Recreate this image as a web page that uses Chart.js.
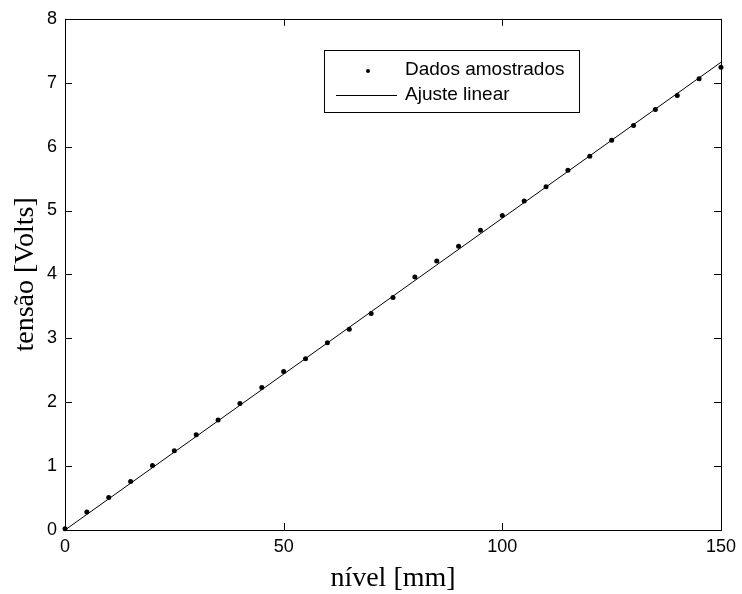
<!DOCTYPE html>
<html>
<head>
<meta charset="utf-8">
<script src="https://cdn.jsdelivr.net/npm/chart.js@4.4.0/dist/chart.umd.min.js"></script>
<style>
html, body { margin: 0; padding: 0; background: #fff; }
#wrap { width: 742px; height: 594px; }
</style>
</head>
<body>
<div id="wrap"><canvas id="chart" width="742" height="594"></canvas></div>
<script>
// Dados amostrados: nível [mm] x tensão [V]
const nivel = [0, 5, 10, 15, 20, 25, 30, 35, 40, 45, 50, 55, 60, 65, 70, 75,
    80, 85, 90, 95, 100, 105, 110, 115, 120, 125, 130, 135, 140, 145, 150];
const tensao = [0.02, 0.28, 0.51, 0.76, 1.01, 1.24, 1.49, 1.72, 1.98, 2.23, 2.48,
    2.68, 2.93, 3.14, 3.39, 3.64, 3.96, 4.21, 4.44, 4.69, 4.92, 5.15, 5.37,
    5.63, 5.85, 6.10, 6.33, 6.58, 6.80, 7.06, 7.24];
// Ajuste linear (extremos da reta)
const ajusteX = [0, 150];
const ajusteY = [0, 7.32];
// Marcas dos eixos
const xTicks = [0, 50, 100, 150];
const yTicks = [0, 1, 2, 3, 4, 5, 6, 7, 8];

const sans = '"Liberation Sans", Arial, sans-serif';
const serif = '"Liberation Serif", "Times New Roman", serif';

// Moldura e marcas internas (estilo MATLAB)
const framePlugin = {
    id: 'frame',
    afterDatasetsDraw(chart) {
        const { ctx, chartArea: a, scales } = chart;
        const tl = 7;
        ctx.save();
        ctx.strokeStyle = '#000';
        ctx.lineWidth = 1;
        ctx.beginPath();
        scales.x.ticks.forEach(t => {
            const px = Math.round(scales.x.getPixelForValue(t.value)) + 0.5;
            ctx.moveTo(px, a.bottom); ctx.lineTo(px, a.bottom - tl);
            ctx.moveTo(px, a.top); ctx.lineTo(px, a.top + tl);
        });
        scales.y.ticks.forEach(t => {
            const py = Math.round(scales.y.getPixelForValue(t.value)) + 0.5;
            ctx.moveTo(a.left, py); ctx.lineTo(a.left + tl, py);
            ctx.moveTo(a.right, py); ctx.lineTo(a.right - tl, py);
        });
        ctx.stroke();
        ctx.strokeRect(Math.round(a.left) + 0.5, Math.round(a.top) + 0.5,
            Math.round(a.right - a.left), Math.round(a.bottom - a.top));
        ctx.restore();
    }
};

// Legenda desenhada dentro da área do gráfico
const legendPlugin = {
    id: 'boxLegend',
    afterDraw(chart) {
        const { ctx } = chart;
        const ds = chart.data.datasets;
        const box = { x: 324.5, y: 50.5, w: 255, h: 62 };
        ctx.save();
        ctx.fillStyle = '#fff';
        ctx.fillRect(box.x, box.y, box.w, box.h);
        ctx.strokeStyle = '#000';
        ctx.lineWidth = 1;
        ctx.strokeRect(box.x, box.y, box.w, box.h);

        ctx.font = '19px ' + sans;
        ctx.fillStyle = '#000';
        ctx.textBaseline = 'middle';
        ctx.textAlign = 'left';

        // linha 1: pontos
        ctx.beginPath();
        ctx.arc(368, 71, 2, 0, Math.PI * 2);
        ctx.fill();
        ctx.fillText(ds[0].label, 405, 70);

        // linha 2: reta
        ctx.beginPath();
        ctx.moveTo(336, 95.5);
        ctx.lineTo(397, 95.5);
        ctx.stroke();
        ctx.fillText(ds[1].label, 405, 95);
        ctx.restore();
    }
};

const ctx = document.getElementById('chart').getContext('2d');
new Chart(ctx, {
    type: 'scatter',
    data: {
        datasets: [{
            label: 'Dados amostrados',
            data: nivel.map((x, i) => ({ x: x, y: tensao[i] })),
            pointRadius: 2.5,
            pointHoverRadius: 2.5,
            pointBackgroundColor: '#000',
            pointBorderWidth: 0,
            showLine: false,
            clip: false
        }, {
            label: 'Ajuste linear',
            data: ajusteX.map((x, i) => ({ x: x, y: ajusteY[i] })),
            showLine: true,
            borderColor: '#000',
            borderWidth: 1,
            pointRadius: 0,
            tension: 0
        }]
    },
    options: {
        responsive: false,
        animation: false,
        events: [],
        layout: { padding: { top: 13, right: 19, left: 0, bottom: 0 } },
        plugins: {
            legend: { display: false },
            tooltip: { enabled: false }
        },
        scales: {
            x: {
                type: 'linear',
                min: 0,
                max: 150,
                afterBuildTicks: s => { s.ticks = xTicks.map(v => ({ value: v })); },
                afterFit: s => { s.height = 64; },
                grid: { display: false, drawTicks: false },
                border: { display: false },
                ticks: {
                    color: '#000',
                    padding: 6,
                    maxRotation: 0,
                    font: { family: sans, size: 18 }
                },
                title: {
                    display: true,
                    text: 'nível [mm]',
                    color: '#000',
                    font: { family: serif, size: 28, lineHeight: 1 },
                    padding: { top: 0, bottom: 1 }
                }
            },
            y: {
                type: 'linear',
                min: 0,
                max: 8,
                afterBuildTicks: s => { s.ticks = yTicks.map(v => ({ value: v })); },
                afterFit: s => { s.width = 65; },
                grid: { display: false, drawTicks: false },
                border: { display: false },
                ticks: {
                    color: '#000',
                    padding: 8,
                    font: { family: sans, size: 18 }
                },
                title: {
                    display: true,
                    text: 'tensão [Volts]',
                    color: '#000',
                    font: { family: serif, size: 28, lineHeight: 1 },
                    padding: { top: 12, bottom: 0 }
                }
            }
        }
    },
    plugins: [framePlugin, legendPlugin]
});
</script>
</body>
</html>
